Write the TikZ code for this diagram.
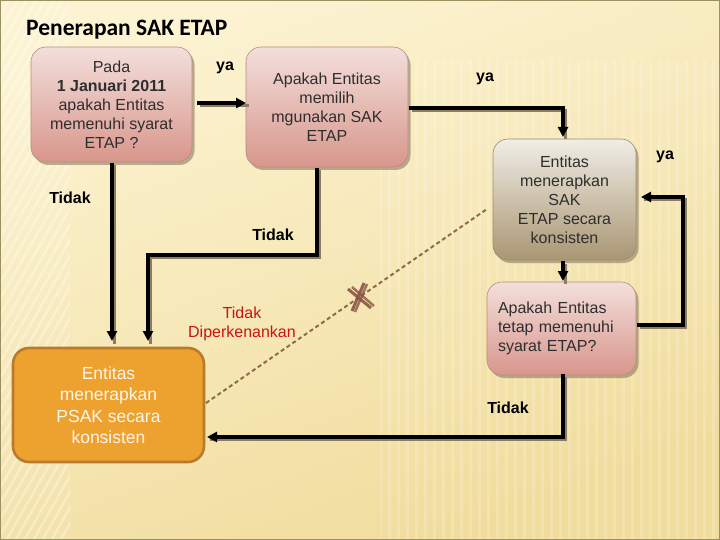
\documentclass[tikz,border=0pt]{standalone}
\usepackage{fontspec}
\setmainfont{Liberation Sans}
\newfontfamily\titlefont{Carlito}
\usetikzlibrary{arrows.meta,shadows,calc}
\definecolor{bgA}{HTML}{FCF3D2}
\definecolor{bgB}{HTML}{F0DC9C}
\definecolor{frame}{HTML}{9A9060}
\definecolor{pinkT}{HTML}{F3DFDB}
\definecolor{pinkB}{HTML}{D8968C}
\definecolor{pinkD}{HTML}{B98A80}
\definecolor{greyT}{HTML}{F0EDE6}
\definecolor{greyB}{HTML}{A99672}
\definecolor{greyD}{HTML}{9C8C6E}
\definecolor{orangeF}{HTML}{EDA22F}
\definecolor{orangeD}{HTML}{B97A2A}
\definecolor{shadowc}{HTML}{8C7D62}
\definecolor{txt}{HTML}{2E2E2E}
\definecolor{redtxt}{HTML}{CC1212}
\definecolor{dashc}{HTML}{8E6A4E}
\definecolor{xc}{HTML}{8A5444}
\tikzset{
  x=1pt,y=-1pt,
  boxbase/.style={rounded corners=15pt, inner sep=0pt, align=center, text=txt,
    font=\fontsize{16}{19}\selectfont,
    drop shadow={shadow xshift=2.5pt, shadow yshift=-3pt, fill=shadowc, opacity=0.6}},
  pinkbox/.style={boxbase, draw=pinkD, line width=0.6pt, top color=pinkT, bottom color=pinkB},
  greybox/.style={boxbase, draw=greyD, line width=0.6pt, top color=greyT, bottom color=greyB},
  orangebox/.style={rounded corners=16pt, inner sep=0pt, align=center, fill=orangeF, draw=orangeD,
    line width=2.6pt, text=white!92!orange, font=\fontsize{17.5}{21.5}\selectfont},
  conn/.style={line width=3.3pt, draw=black, -{Triangle[length=10pt,width=10pt]},
    preaction={draw=shadowc, line width=3pt, -, transform canvas={xshift=2.5pt,yshift=-2.5pt}}},
  lbl/.style={font=\bfseries\fontsize{16}{19}\selectfont, text=black, inner sep=0pt},
}
\begin{document}
\begin{tikzpicture}
\useasboundingbox (0,0) rectangle (720,540);
% background
\shade[top color=bgA, bottom color=bgB, shading angle=20] (0,0) rectangle (720,540);
\begin{scope}
\clip (0,0) rectangle (70,540);
\foreach \i in {-20,...,60} {
  \draw[white, opacity=0.35, line width=2.5pt] (\i*9,0) -- ++(-320,560);
}
\end{scope}
\begin{scope}
\clip (380,60) rectangle (720,540);
\foreach \i in {0,...,40} {
  \draw[white, opacity=0.18, line width=3pt] (380+\i*9,60) -- ++(0,480);
}
\end{scope}
\draw[frame, line width=1pt] (0.5,0.5) rectangle (719.5,539.5);

% title
\node[anchor=west, inner sep=0pt, font=\titlefont\bfseries\fontsize{23.5}{28}\selectfont] (title) at (26,30) {Penerapan SAK ETAP};

% boxes
\node[pinkbox, minimum width=161pt, minimum height=115pt] (b1) at (111.5,104.5)
  {Pada\\\textbf{1 Januari 2011}\\apakah Entitas\\memenuhi syarat\\ETAP ?};
\node[pinkbox, minimum width=162pt, minimum height=120pt] (b2) at (327,107)
  {Apakah Entitas\\memilih\\mgunakan SAK\\ETAP};
\node[greybox, minimum width=143pt, minimum height=121pt] (b3) at (564.5,199.5)
  {Entitas\\menerapkan\\SAK\\ETAP secara\\konsisten};
\node[pinkbox, minimum width=149pt, minimum height=93pt, text width=127pt, align=left] (b4) at (561.5,328.5)
  {Apakah Entitas\\tetap memenuhi\\syarat ETAP?};
\node[orangebox, minimum width=191pt, minimum height=114pt] (b5) at (108.5,405)
  {Entitas\\menerapkan\\PSAK secara\\konsisten};

% labels
\node[lbl] (ya1) at (225,68) {ya};
\node[lbl] (ya2) at (485,79) {ya};
\node[lbl] (ya3) at (665,157) {ya};
\node[lbl] (t1) at (70,198) {Tidak};
\node[lbl] (t2) at (273,235) {Tidak};
\node[lbl] (t3) at (508,408) {Tidak};
\node[inner sep=0pt, align=center, text=redtxt, font=\fontsize{16}{19}\selectfont] (td) at (242,323.5) {Tidak\\Diperkenankan};

% coordinates
\coordinate (b1out) at (197,103);
\coordinate (b2in) at (246,103);
\coordinate (b2out) at (409,108);
\coordinate (b3in) at (563,137);
\coordinate (b3out) at (563,261);
\coordinate (b4in) at (563,281);
\coordinate (b4r) at (637,325);
\coordinate (rc) at (683,325);
\coordinate (b3r) at (641,197);
\coordinate (b4b) at (563,374);
\coordinate (b5r) at (207,437);
\coordinate (b1b) at (112,163);
\coordinate (b5t1) at (112,341);
\coordinate (b2b) at (317,168);
\coordinate (mid) at (317,255);
\coordinate (b5t2) at (148,341);
\coordinate (d1) at (206,403);
\coordinate (d2) at (487,209);

% connectors
\draw[conn] (b1out) -- (b2in);
\draw[conn] (b2out) -| (b3in);
\draw[conn] (b3out) -- (b4in);
\draw[conn] (b4r) -- (rc) |- (b3r);
\draw[conn] (b4b) |- (b5r);
\draw[conn] (b1b) -- (b5t1);
\draw[conn] (b2b) -- (mid) -| (b5t2);

% dashed forbidden link
\draw[dashc, line width=2pt, dash pattern=on 4pt off 3pt] (d1) -- (d2);
\coordinate (xm) at (360,297);
\draw[xc, line width=3pt, opacity=0.9] ($(xm)+(-12,-8)$) -- ($(xm)+(11,11)$);
\draw[xc, line width=3pt, opacity=0.9] ($(xm)+(4,-14)$) -- ($(xm)+(-8,14)$);
\draw[xc, line width=2.5pt, opacity=0.8] ($(xm)+(-8,-10)$) -- ($(xm)+(14,9)$);
\draw[xc, line width=2.5pt, opacity=0.8] ($(xm)+(7,-13)$) -- ($(xm)+(-5,15)$);
\end{tikzpicture}
\end{document}
